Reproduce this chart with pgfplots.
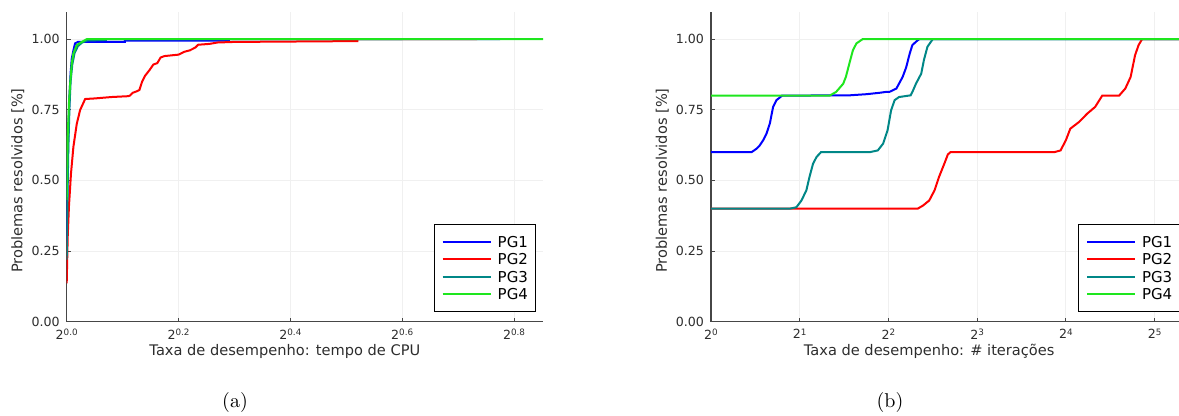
\documentclass[border=0pt]{standalone}
\usepackage{fontspec}
\usepackage{pgfplots}
\pgfplotsset{compat=1.18}
\newfontfamily\dv{DejaVu Sans}
\definecolor{pgA}{RGB}{0,0,255}
\definecolor{pgB}{RGB}{255,0,0}
\definecolor{pgC}{RGB}{0,135,135}
\definecolor{pgD}{RGB}{30,230,30}
\definecolor{txt}{RGB}{45,45,45}
\newcommand\expo[1]{\raisebox{0.55ex}{\fontsize{4.4}{5}\selectfont #1}}

\pgfplotsset{
  perfprof/.style={
    scale only axis,
    width=238.2pt, height=155pt,
    ymin=0, ymax=1.097,
    axis x line*=bottom, axis y line*=left,
    axis line style={-, gray!55!black, line width=0.8pt},
    tick align=inside, major tick length=2pt,
    tick style={gray!55!black, line width=0.5pt},
    grid=major, major grid style={gray!12, line width=0.5pt},
    ytick={0,0.25,0.5,0.75,1}, yticklabels={0.00,0.25,0.50,0.75,1.00},
    ticklabel style={font=\dv\fontsize{6.3}{7}\selectfont, text=txt},
    label style={font=\dv\fontsize{7.3}{8}\selectfont, text=txt},
    ylabel={Problemas resolvidos [\%]},
    ylabel style={at={(axis description cs:-0.1024,0.455)}, anchor=center},
    xlabel style={at={(axis description cs:0.458,0)}, anchor=center, yshift=-15pt},
    legend style={at={(0.985,0.032)}, anchor=south east, draw=black, line width=0.6pt,
      fill=white, font=\dv\fontsize{7.5}{9}\selectfont, inner xsep=3.7pt, inner ysep=5.8pt,
      row sep=3.2pt, column sep=3pt,
      nodes={inner sep=0pt, text height=5.5pt, text depth=0pt}},
    legend cell align=left,
    legend image code/.code={\draw[#1] (0pt,0pt) -- (24pt,0pt);},
    every axis plot/.append style={line width=1pt},
  }
}

\begin{document}
\begin{tikzpicture}
\useasboundingbox (0,0) rectangle (589.5pt,208pt);

% (a) tempo de CPU
\begin{axis}[perfprof,
  at={(33.35pt,47.15pt)}, anchor=south west,
  xmin=0, xmax=0.852,
  xtick={0,0.2,0.4,0.6,0.8},
  xticklabels={2\expo{0.0},2\expo{0.2},2\expo{0.4},2\expo{0.6},2\expo{0.8}},
  xlabel={Taxa de desempenho: tempo de CPU},
]
\addplot[pgA] coordinates {
 (0,0.28) (0.0015,0.5) (0.003,0.68) (0.005,0.8) (0.007,0.88) (0.009,0.93)
 (0.012,0.96) (0.015,0.985) (0.02,0.99) (0.104,0.99) (0.104,0.995)
 (0.29,0.995) (0.29,1) (0.775,1)
};
\addlegendentry{PG1}
\addplot[pgB] coordinates {
 (0,0.136) (0.0018,0.30) (0.004,0.407) (0.0077,0.525) (0.012,0.619)
 (0.018,0.70) (0.024,0.749) (0.033,0.788) (0.05,0.79) (0.08,0.795) (0.11,0.798)
 (0.113,0.80) (0.118,0.81) (0.125,0.815)
 (0.13,0.82) (0.135,0.85) (0.14,0.87) (0.148,0.89) (0.155,0.91) (0.162,0.915)
 (0.168,0.935) (0.175,0.94) (0.19,0.943) (0.2,0.945) (0.21,0.955) (0.22,0.96)
 (0.23,0.97) (0.235,0.98) (0.255,0.983) (0.27,0.988) (0.3,0.99) (0.52,0.993)
 (0.52,1) (0.734,1)
};
\addlegendentry{PG2}
\addplot[pgC] coordinates {
 (0,0.22) (0.0015,0.45) (0.003,0.62) (0.005,0.76) (0.007,0.85) (0.01,0.91)
 (0.014,0.95) (0.02,0.975) (0.027,0.987) (0.036,0.995) (0.07,0.997) (0.07,1) (0.6,1)
};
\addlegendentry{PG3}
\addplot[pgD] coordinates {
 (0,0.43) (0.0018,0.654) (0.004,0.772) (0.0057,0.83) (0.009,0.914) (0.012,0.95)
 (0.018,0.979) (0.027,0.99) (0.036,1) (0.852,1)
};
\addlegendentry{PG4}
\end{axis}

% (b) iteracoes
\begin{axis}[perfprof,
  at={(355.5pt,47.15pt)}, anchor=south west,
  xmin=0, xmax=5.37,
  xtick={0,1,2,3,4,5},
  xticklabels={2\expo{0},2\expo{1},2\expo{2},2\expo{3},2\expo{4},2\expo{5}},
  xlabel={Taxa de desempenho: \# iterações},
]
\addplot[pgA] coordinates {
 (0,0.6) (0.457,0.6) (0.513,0.612) (0.55,0.624) (0.588,0.642) (0.626,0.666)
 (0.663,0.701) (0.70,0.76) (0.738,0.784) (0.794,0.798) (0.8,0.8) (1.56,0.801)
 (1.75,0.805) (1.90,0.81) (1.97,0.813) (2.01,0.813) (2.09,0.825) (2.11,0.837)
 (2.16,0.866) (2.20,0.90) (2.24,0.949) (2.27,0.979) (2.33,0.996) (2.35,1.0) (5.37,1.0)
};
\addlegendentry{PG1}
\addplot[pgB] coordinates {
 (0,0.4) (2.33,0.4) (2.39,0.411) (2.46,0.429) (2.52,0.465) (2.57,0.512)
 (2.63,0.559) (2.67,0.592) (2.70,0.60) (3.87,0.60) (3.94,0.606) (4.0,0.642)
 (4.05,0.683) (4.15,0.707) (4.24,0.736) (4.33,0.76) (4.41,0.80) (4.60,0.80)
 (4.67,0.825) (4.73,0.866) (4.78,0.943) (4.82,0.979) (4.86,1.0) (5.37,1)
};
\addlegendentry{PG2}
\addplot[pgC] coordinates {
 (0,0.4) (0.888,0.4) (0.963,0.405) (1.02,0.429) (1.075,0.465) (1.11,0.512)
 (1.15,0.559) (1.19,0.583) (1.24,0.60) (1.79,0.60) (1.88,0.606) (1.94,0.63)
 (1.99,0.677) (2.03,0.748) (2.07,0.784) (2.12,0.795) (2.25,0.801) (2.27,0.813)
 (2.31,0.842) (2.37,0.878) (2.40,0.926) (2.44,0.973) (2.50,1.0) (5.37,1)
};
\addlegendentry{PG3}
\addplot[pgD] coordinates {
 (0,0.8) (1.337,0.8) (1.41,0.813) (1.49,0.842) (1.52,0.866) (1.56,0.914)
 (1.60,0.961) (1.64,0.985) (1.71,1.0) (5.37,1)
};
\addlegendentry{PG4}
\end{axis}

\node[font=\fontsize{10}{12}\selectfont] at (117.5pt,6.5pt) {(a)};
\node[font=\fontsize{10}{12}\selectfont] at (445pt,6.5pt) {(b)};
\end{tikzpicture}
\end{document}
